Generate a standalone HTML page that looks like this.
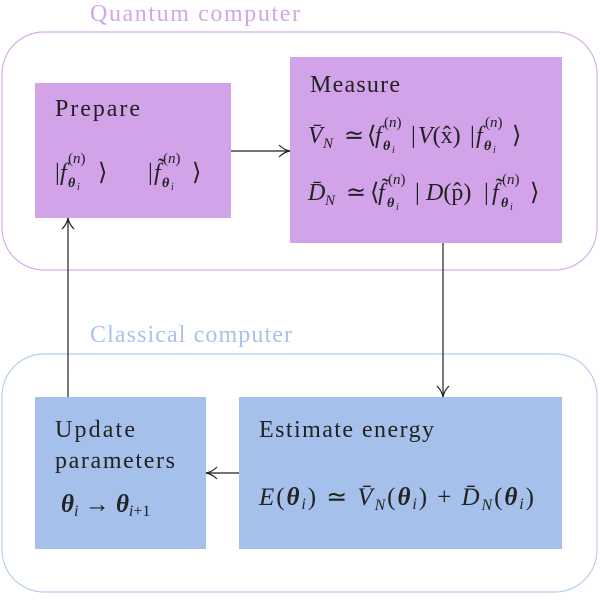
<!DOCTYPE html>
<html><head><meta charset="utf-8"><style>
body{margin:0;background:#fff}
svg{display:block}
text{font-family:"Liberation Serif",serif;fill:#222}
.i{font-style:italic}
.s{font-size:15px}
.b{font-size:14px;font-weight:bold;font-style:italic}
.c{font-size:10px;font-style:italic}
</style></head><body>
<svg width="600" height="600" viewBox="0 0 600 600" xmlns="http://www.w3.org/2000/svg">
<defs><marker id="a" markerWidth="14" markerHeight="14" refX="12" refY="7" orient="auto" markerUnits="userSpaceOnUse"><path d="M1,1 Q6,6 12,7 Q6,8 1,13" fill="none" stroke="#222" stroke-width="1.2"/></marker></defs>
<rect x="2" y="32" width="595" height="238" rx="42" fill="none" stroke="#d8aceb" stroke-width="1.2"/>
<rect x="2" y="354" width="595" height="238" rx="42" fill="none" stroke="#b8cdf0" stroke-width="1.2"/>
<text x="90" y="21" font-size="24" textLength="210" style="fill:#d3a6e8">Quantum computer</text>
<text x="90" y="342" font-size="24" textLength="202" style="fill:#a9c3ec">Classical computer</text>
<rect x="35" y="83" width="196" height="135" fill="#d2a3e8"/>
<rect x="290" y="57" width="272" height="186" fill="#d2a3e8"/>
<rect x="35" y="397" width="171" height="152" fill="#a5c0ea"/>
<rect x="239" y="397" width="323" height="152" fill="#a5c0ea"/>
<line x1="231" y1="151" x2="290" y2="151" stroke="#222" stroke-width="1.2" marker-end="url(#a)"/>
<line x1="443" y1="243" x2="443" y2="397" stroke="#222" stroke-width="1.2" marker-end="url(#a)"/>
<line x1="239" y1="473" x2="206" y2="473" stroke="#222" stroke-width="1.2" marker-end="url(#a)"/>
<line x1="68" y1="397" x2="68" y2="218" stroke="#222" stroke-width="1.2" marker-end="url(#a)"/>

<text x="55" y="116" font-size="24" textLength="85">Prepare</text>
<g font-size="24">
<text x="55" y="180">|</text><text x="60" y="180" class="i">f</text>
<text x="68" y="163" class="s">(<tspan class="i">n</tspan>)</text>
<text x="68" y="187" class="b">θ</text><text x="77" y="190" class="c">i</text>
<text x="98" y="180">⟩</text>

<text x="148" y="180">|</text><text x="154" y="180" class="i">f̃</text>
<text x="163" y="163" class="s">(<tspan class="i">n</tspan>)</text>
<text x="162" y="187" class="b">θ</text><text x="171" y="190" class="c">i</text>
<text x="192" y="180">⟩</text>
</g>

<text x="310" y="92" font-size="24" textLength="90">Measure</text>
<g font-size="24">
<text x="308" y="143" class="i">V̄</text><text x="323" y="148" class="s i">N</text>
<text x="344" y="143">≃</text>
<text x="367" y="143">⟨</text><text x="375" y="143" class="i">f</text>
<text x="384" y="127" class="s">(<tspan class="i">n</tspan>)</text>
<text x="383" y="150" class="b">θ</text><text x="392" y="153" class="c">i</text>
<text x="411" y="143">|</text><text x="418" y="143"><tspan class="i">V</tspan>(x̂)</text>
<text x="470" y="143">|</text><text x="476" y="143" class="i">f</text>
<text x="485" y="127" class="s">(<tspan class="i">n</tspan>)</text>
<text x="484" y="150" class="b">θ</text><text x="493" y="153" class="c">i</text>
<text x="512" y="143">⟩</text>

<text x="308" y="200" class="i">D̄</text><text x="325" y="205" class="s i">N</text>
<text x="346" y="200">≃</text>
<text x="370" y="200">⟨</text><text x="378" y="200" class="i">f̃</text>
<text x="388" y="184" class="s">(<tspan class="i">n</tspan>)</text>
<text x="387" y="207" class="b">θ</text><text x="396" y="210" class="c">i</text>
<text x="415" y="200">|</text><text x="426" y="200"><tspan class="i">D</tspan>(p̂)</text>
<text x="484" y="200">|</text><text x="492" y="200" class="i">f̃</text>
<text x="502" y="184" class="s">(<tspan class="i">n</tspan>)</text>
<text x="501" y="207" class="b">θ</text><text x="510" y="210" class="c">i</text>
<text x="530" y="200">⟩</text>
</g>

<text x="55" y="437" font-size="24" textLength="80">Update</text>
<text x="55" y="468" font-size="24" textLength="120">parameters</text>
<text x="61" y="512" font-size="25"><tspan font-weight="bold" class="i">θ</tspan><tspan font-size="16" dy="4" class="i">i</tspan><tspan dy="-4">  → </tspan><tspan font-weight="bold" class="i">θ</tspan><tspan font-size="16" dy="4"><tspan class="i">i</tspan>+1</tspan></text>
<text x="259" y="437" font-size="24" textLength="175">Estimate energy</text>
<text x="259" y="505" font-size="25" textLength="275" lengthAdjust="spacing"><tspan class="i">E</tspan>(<tspan font-weight="bold" class="i">θ</tspan><tspan font-size="16" dy="4" class="i">i</tspan><tspan dy="-4">) ≃ </tspan><tspan class="i">V̄</tspan><tspan font-size="16" dy="5" class="i">N</tspan><tspan dy="-5">(</tspan><tspan font-weight="bold" class="i">θ</tspan><tspan font-size="16" dy="4" class="i">i</tspan><tspan dy="-4">) + </tspan><tspan class="i">D̄</tspan><tspan font-size="16" dy="5" class="i">N</tspan><tspan dy="-5">(</tspan><tspan font-weight="bold" class="i">θ</tspan><tspan font-size="16" dy="4" class="i">i</tspan><tspan dy="-4">)</tspan></text>
</svg>
</body></html>
